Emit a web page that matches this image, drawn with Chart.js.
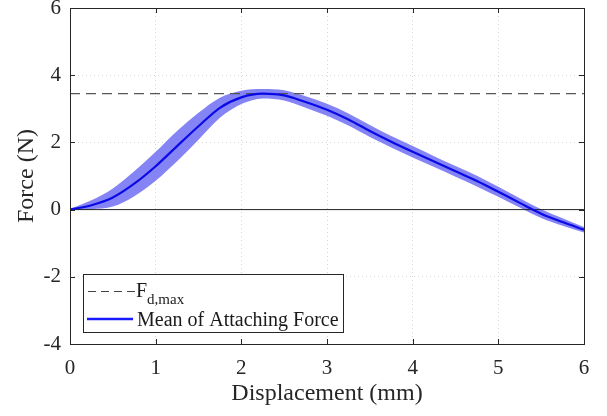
<!DOCTYPE html>
<html><head><meta charset="utf-8">
<script src="https://cdn.jsdelivr.net/npm/chart.js@4.4.0/dist/chart.umd.min.js"></script>
<style>html,body{margin:0;padding:0;background:#fff}#wrap{width:607px;height:416px}</style>
</head><body><div id="wrap"><canvas id="c" width="607" height="416"></canvas></div>
<script>
const displacement = [0,0.25,0.5,0.75,1.0,1.25,1.5,1.75,2.0,2.25,2.5,2.75,3.0,3.25,3.5,3.75,4.0,4.25,4.5,4.75,5.0,5.25,5.5,5.75,6.0];
const meanForce   = [0,0.13,0.36,0.77,1.29,1.89,2.48,3.03,3.34,3.45,3.40,3.20,2.97,2.68,2.34,2.02,1.72,1.43,1.14,0.85,0.53,0.20,-0.12,-0.37,-0.60];
const upperForce  = [0.03,0.28,0.63,1.14,1.72,2.34,2.88,3.33,3.54,3.59,3.55,3.37,3.15,2.86,2.52,2.19,1.89,1.59,1.30,1.01,0.68,0.34,0.01,-0.26,-0.52];
const lowerForce  = [-0.02,0.01,0.09,0.40,0.86,1.44,2.08,2.73,3.14,3.31,3.25,3.03,2.79,2.50,2.16,1.85,1.55,1.27,0.98,0.69,0.38,0.06,-0.25,-0.48,-0.68];
const fdMax = 3.45;
const xRange = [0,6];
const yRange = [-4,6];
const xTicks = [0,1,2,3,4,5,6];
const yTicks = [-4,-2,0,2,4,6];
const legendMainLabel = 'F';
const legendSubLabel = 'd,max';
const legendMeanLabel = 'Mean of Attaching Force';

const FONT = '"Liberation Serif", "Times New Roman", serif';
const pts = (ys) => displacement.map((x,i)=>({x:x,y:ys[i]}));

const boxPlugin = {
  id:'boxPlugin',
  afterDatasetsDraw(chart){
    const {ctx, chartArea:a, scales:{x, y}} = chart;
    ctx.save();
    ctx.strokeStyle = '#262626';
    ctx.lineWidth = 1;
    ctx.strokeRect(Math.round(a.left)+0.5, Math.round(a.top)+0.5, Math.round(a.right-a.left), Math.round(a.bottom-a.top));
    const tl = 5;
    ctx.beginPath();
    xTicks.forEach(v=>{
      const px = Math.round(x.getPixelForValue(v))+0.5;
      ctx.moveTo(px, a.bottom); ctx.lineTo(px, a.bottom-tl);
      ctx.moveTo(px, a.top); ctx.lineTo(px, a.top+tl);
    });
    yTicks.forEach(v=>{
      const py = Math.round(y.getPixelForValue(v))+0.5;
      ctx.moveTo(a.left, py); ctx.lineTo(a.left+tl, py);
      ctx.moveTo(a.right, py); ctx.lineTo(a.right-tl, py);
    });
    ctx.stroke();
    // legend
    const lx = 83.5, ly = 274.5, lw = 260, lh = 58;
    ctx.fillStyle = '#fff';
    ctx.fillRect(lx, ly, lw, lh);
    ctx.strokeStyle = '#262626';
    ctx.strokeRect(lx, ly, lw, lh);
    ctx.strokeStyle = '#444';
    ctx.lineWidth = 1;
    ctx.setLineDash([8,5]);
    ctx.beginPath(); ctx.moveTo(88, 291.5); ctx.lineTo(135, 291.5); ctx.stroke();
    ctx.setLineDash([]);
    ctx.strokeStyle = '#1a1aff';
    ctx.lineWidth = 2.5;
    ctx.beginPath(); ctx.moveTo(87, 319); ctx.lineTo(133, 319); ctx.stroke();
    ctx.fillStyle = '#1a1a1a';
    ctx.textBaseline = 'alphabetic';
    ctx.textAlign = 'left';
    ctx.font = '20px ' + FONT;
    ctx.fillText(legendMainLabel, 136, 297);
    const fw = ctx.measureText(legendMainLabel).width;
    ctx.font = '15px ' + FONT;
    ctx.fillText(legendSubLabel, 136+fw, 304);
    ctx.font = '20px ' + FONT;
    ctx.fillText(legendMeanLabel, 137, 326);
    ctx.restore();
  }
};

new Chart(document.getElementById('c'), {
  type:'line',
  data:{
    datasets:[
      {label:'upper', data:pts(upperForce), borderWidth:0, pointRadius:0, fill:'+1', backgroundColor:'rgb(132,132,244)', cubicInterpolationMode:'monotone', order:5},
      {label:'lower', data:pts(lowerForce), borderWidth:0, pointRadius:0, fill:false, cubicInterpolationMode:'monotone', order:5},
      {label:'zero', data:[{x:xRange[0],y:0},{x:xRange[1],y:0}], borderColor:'#222', borderWidth:1, pointRadius:0, fill:false, order:4},
      {label:'Fd,max', data:[{x:xRange[0],y:fdMax},{x:xRange[1],y:fdMax}], borderColor:'#555', borderWidth:1.2, borderDash:[10,6], pointRadius:0, fill:false, order:3},
      {label:legendMeanLabel, data:pts(meanForce), borderColor:'#0a0ae6', borderWidth:2.2, pointRadius:0, fill:false, cubicInterpolationMode:'monotone', order:1}
    ]
  },
  options:{
    responsive:false, animation:false,
    layout:{padding:{left:8, right:23, top:8, bottom:4}},
    plugins:{legend:{display:false}, tooltip:{enabled:false}},
    scales:{
      x:{type:'linear', min:xRange[0], max:xRange[1],
        afterBuildTicks(s){ s.ticks = xTicks.map(v=>({value:v})); },
        afterFit(s){ s.height = 68; s.paddingLeft = 0; s.paddingRight = 0; },
        grid:{color:'#d6d6d6', lineWidth:1, drawTicks:false},
        border:{display:false, dash:[1,3]},
        ticks:{font:{family:FONT, size:21}, color:'#262626', padding:12, maxRotation:0},
        title:{display:true, text:'Displacement (mm)', font:{family:FONT, size:24}, color:'#262626', padding:{top:0}}
      },
      y:{type:'linear', min:yRange[0], max:yRange[1],
        afterBuildTicks(s){ s.ticks = yTicks.map(v=>({value:v})); },
        afterFit(s){ s.width = 62; s.paddingTop = 0; s.paddingBottom = 0; },
        grid:{color:'#d6d6d6', lineWidth:1, drawTicks:false},
        border:{display:false, dash:[1,3]},
        ticks:{font:{family:FONT, size:21}, color:'#262626', padding:9},
        title:{display:true, text:'Force (N)', font:{family:FONT, size:24}, color:'#262626', padding:{bottom:0}}
      }
    }
  },
  plugins:[boxPlugin]
});
</script></body></html>
